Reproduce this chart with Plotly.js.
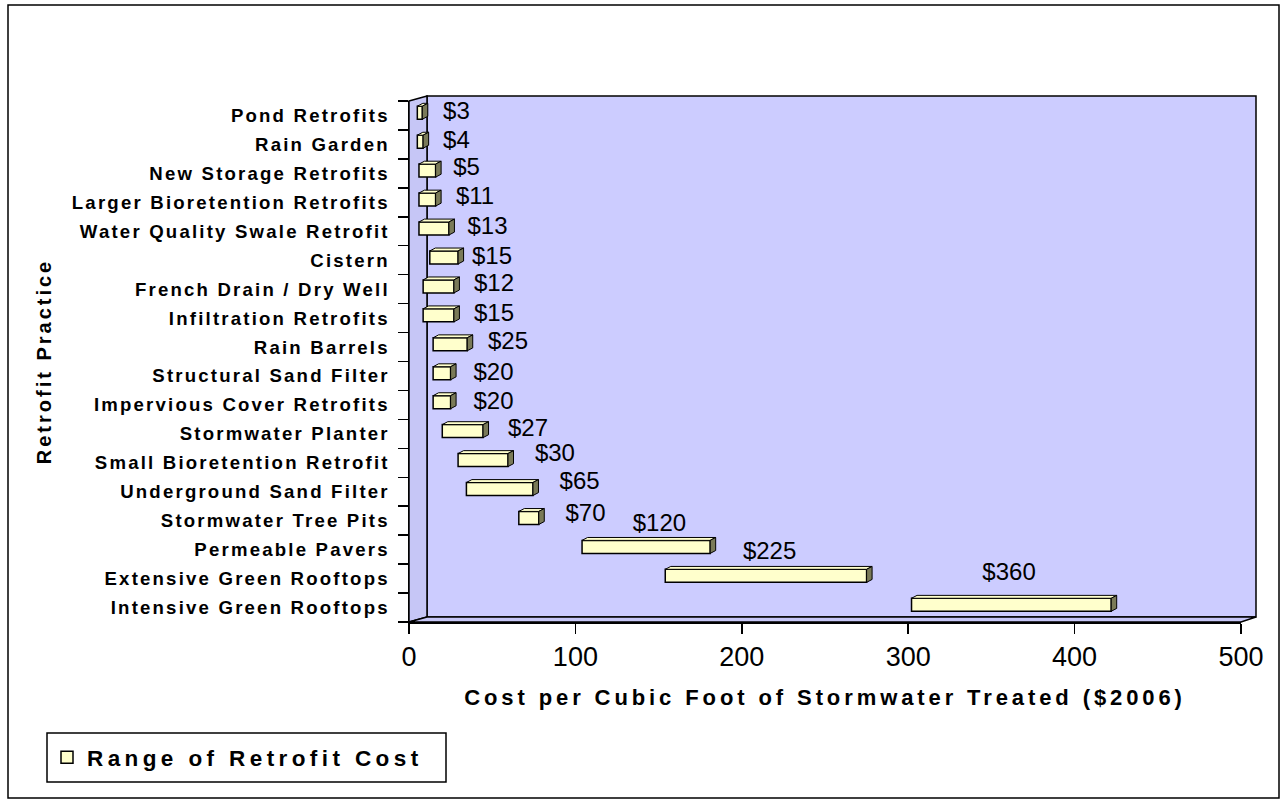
<!DOCTYPE html>
<html>
<head>
<meta charset="utf-8">
<script src="https://cdn.plot.ly/plotly-3.0.1.min.js"></script>
<style>
html,body{margin:0;padding:0;background:#ffffff;}
#chart{width:1281px;height:804px;}
#chart .ytick text{letter-spacing:2.2px;}
#chart .g-xtitle text{letter-spacing:3.9px;}
#chart .g-ytitle text{letter-spacing:3px;}
#chart .legendtext{letter-spacing:4.4px;}
</style>
</head>
<body>
<div id="chart"></div>
<script>
// ---- data ----
const categories = [
  "Pond Retrofits", "Rain Garden", "New Storage Retrofits", "Larger Bioretention Retrofits",
  "Water Quality Swale Retrofit", "Cistern", "French Drain / Dry Well", "Infiltration Retrofits",
  "Rain Barrels", "Structural Sand Filter", "Impervious Cover Retrofits", "Stormwater Planter",
  "Small Bioretention Retrofit", "Underground Sand Filter", "Stormwater Tree Pits",
  "Permeable Pavers", "Extensive Green Rooftops", "Intensive Green Rooftops"
];
const minCost = [5, 5, 6, 6, 6, 12.5, 8.5, 8.5, 14.5, 14.5, 14.5, 20, 29.5, 34.5, 66, 104, 154, 302];
const maxCost = [8, 8.5, 16, 16, 24, 29.5, 27, 27, 35, 25, 25, 44.5, 59.5, 74.5, 78, 181, 275, 422];
const typicalCost = [3, 4, 5, 11, 13, 15, 12, 15, 25, 20, 20, 27, 30, 65, 70, 120, 225, 360];
const xTicks = [0, 100, 200, 300, 400, 500];

// ---- label placement (layout only) ----
const labelX = [28.5, 28.5, 34.6, 39.7, 47.2, 49.9, 51.1, 51.1, 59.5, 50.8, 50.8, 71.5, 87.7, 102.5, 106.1, 150.5, 216.7, 360.6];
const labelDy = [-0.09, -0.08, -0.15, -0.15, -0.11, -0.08, -0.14, -0.11, -0.14, -0.07, -0.07, -0.13, -0.27, -0.30, -0.19, -0.85, -0.88, -1.16];

// ---- geometry helpers (pixel -> paper) ----
const L = 409, R = 1241, T = 101, B = 622;
const PX = px => (px - L) / (R - L);
const PY = py => (B - py) / (B - T);

const idx = categories.map((c, i) => i);
const BAR_W = 0.45, BAR_OFF = -0.32;
const DEPTH_X = 3.3, DEPTH_Y = 0.1;

const shapes = [];
// chart outer border
shapes.push({type:'rect', xref:'paper', yref:'paper', x0:PX(8), x1:PX(1279), y0:PY(798), y1:PY(5),
  line:{color:'#000', width:1.5}, fillcolor:'rgba(0,0,0,0)', layer:'below'});
// 3D walls
const wall = '#CCCCFF';
shapes.push({type:'path', xref:'paper', yref:'paper', layer:'below',
  path:`M${PX(427)},${PY(96)} L${PX(1256)},${PY(96)} L${PX(1256)},${PY(617)} L${PX(427)},${PY(617)} Z`,
  fillcolor:wall, line:{color:'#000', width:1.5}});
shapes.push({type:'path', xref:'paper', yref:'paper', layer:'below',
  path:`M${PX(409)},${PY(101)} L${PX(427)},${PY(96)} L${PX(427)},${PY(617)} L${PX(409)},${PY(622)} Z`,
  fillcolor:'#C6C6F6', line:{color:'#000', width:1.5}});
shapes.push({type:'path', xref:'paper', yref:'paper', layer:'below',
  path:`M${PX(409)},${PY(622)} L${PX(427)},${PY(617)} L${PX(1256)},${PY(617)} L${PX(1241)},${PY(622)} Z`,
  fillcolor:'#C6C6F6', line:{color:'#000', width:1.5}});
// legend box
shapes.push({type:'rect', xref:'paper', yref:'paper', x0:PX(47), x1:PX(446), y0:PY(782), y1:PY(733),
  line:{color:'#000', width:1.5}, fillcolor:'#ffffff', layer:'below'});

// 3D faces of bars, derived from the data
idx.forEach(i => {
  const top = i + BAR_OFF, bot = i + BAR_OFF + BAR_W;
  const a = minCost[i], b = maxCost[i];
  shapes.push({type:'path', xref:'x', yref:'y', layer:'above',
    path:`M${a},${top} L${a + DEPTH_X},${top - DEPTH_Y} L${b + DEPTH_X},${top - DEPTH_Y} L${b},${top} Z`,
    fillcolor:'#FFFFCC', line:{color:'#000', width:1}});
  shapes.push({type:'path', xref:'x', yref:'y', layer:'above',
    path:`M${b},${top} L${b + DEPTH_X},${top - DEPTH_Y} L${b + DEPTH_X},${bot - DEPTH_Y} L${b},${bot} Z`,
    fillcolor:'#7A7A58', line:{color:'#000', width:1}});
});

const barTrace = {
  type:'bar', orientation:'h', name:'Range of Retrofit Cost',
  y: idx, base: minCost, x: maxCost.map((v, i) => v - minCost[i]),
  width: BAR_W, offset: BAR_OFF,
  marker:{color:'#FFFFCC', line:{color:'#000', width:1.5}},
  hovertemplate:'%{text}<extra></extra>',
  text: categories, textposition:'none'
};

const labelTrace = {
  type:'scatter', mode:'text', showlegend:false, hoverinfo:'skip',
  x: labelX, y: idx.map(i => i + labelDy[i]),
  text: typicalCost.map(v => '$' + v),
  textposition:'middle center',
  textfont:{family:'Liberation Sans, Arial, sans-serif', size:24, color:'#000'},
  cliponaxis:false
};

const layout = {
  width:1281, height:804,
  margin:{l:L, r:1281 - R, t:T, b:804 - B, pad:0},
  paper_bgcolor:'#ffffff', plot_bgcolor:'rgba(0,0,0,0)',
  font:{family:'Liberation Sans, Arial, sans-serif', color:'#000'},
  showlegend:true,
  legend:{orientation:'h', entrywidth:380, entrywidthmode:'pixels',
    x:PX(47), xanchor:'left', y:PY(736), yanchor:'top', bgcolor:'rgba(0,0,0,0)', borderwidth:0,
    font:{family:'Liberation Sans, Arial, sans-serif', size:22.5, weight:'bold', color:'#000'}},
  xaxis:{
    range:[0, 500], tickmode:'array', tickvals:xTicks, ticktext:xTicks.map(String),
    ticks:'outside', ticklen:10, tickwidth:1.5, tickcolor:'#000',
    showline:true, linecolor:'#000', linewidth:1.5, showgrid:false, zeroline:false,
    tickfont:{size:27, family:'Liberation Sans, Arial, sans-serif', color:'#000'},
    ticklabelstandoff:0,
    automargin:true,
    title:{text:'Cost per Cubic Foot of Stormwater Treated ($2006)', standoff:18,
      font:{size:22, weight:'bold', family:'Liberation Sans, Arial, sans-serif', color:'#000'}}
  },
  yaxis:{
    range:[categories.length - 0.5, -0.5], tickmode:'array', tickvals:idx, ticktext:categories,
    ticks:'', showline:true, linecolor:'#000', linewidth:1.5, showgrid:false, zeroline:false,
    minor:{tickmode:'array', tickvals:categories.map((c, i) => i - 0.5).concat([categories.length - 0.5]),
      ticks:'outside', ticklen:10, tickwidth:1.5, tickcolor:'#000', showgrid:false},
    tickfont:{size:18.6, weight:'bold', family:'Liberation Sans, Arial, sans-serif', color:'#000'},
    ticklabelstandoff:14,
    automargin:true,
    title:{text:'Retrofit Practice', standoff:78,
      font:{size:20, weight:'bold', family:'Liberation Sans, Arial, sans-serif', color:'#000'}}
  },
  shapes: shapes,
  bargap:0
};

Plotly.newPlot('chart', [barTrace, labelTrace], layout, {displayModeBar:false, staticPlot:true});
</script>
</body>
</html>
